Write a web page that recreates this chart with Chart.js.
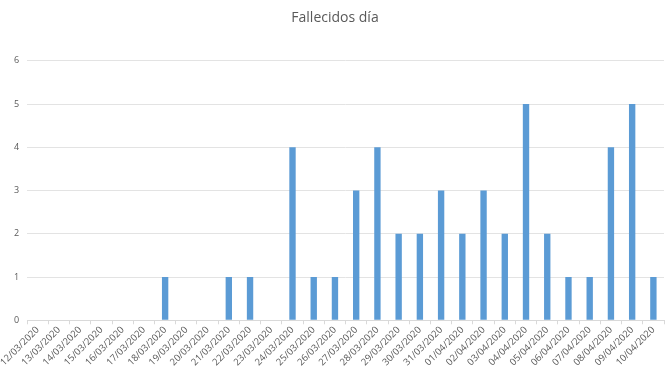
<!DOCTYPE html>
<html>
<head>
<meta charset="utf-8">
<script src="https://cdn.jsdelivr.net/npm/chart.js@4.4.1/dist/chart.umd.min.js"></script>
<style>
  html, body { margin: 0; padding: 0; background: #fff; }
  #wrap { width: 670px; height: 376px; }
</style>
</head>
<body>
<div id="wrap"><canvas id="grafico"></canvas></div>
<script>
// Datos
const fechas = [
  '12/03/2020', '13/03/2020', '14/03/2020', '15/03/2020', '16/03/2020', '17/03/2020',
  '18/03/2020', '19/03/2020', '20/03/2020', '21/03/2020', '22/03/2020', '23/03/2020',
  '24/03/2020', '25/03/2020', '26/03/2020', '27/03/2020', '28/03/2020', '29/03/2020',
  '30/03/2020', '31/03/2020', '01/04/2020', '02/04/2020', '03/04/2020', '04/04/2020',
  '05/04/2020', '06/04/2020', '07/04/2020', '08/04/2020', '09/04/2020', '10/04/2020'
];
const fallecidos = [
  0, 0, 0, 0, 0, 0,
  1, 0, 0, 1, 1, 0,
  4, 1, 1, 3, 4, 2,
  2, 3, 2, 3, 2, 5,
  2, 1, 1, 4, 5, 1
];
const ticksY = [0, 1, 2, 3, 4, 5, 6];

const gris = '#595959';
const ctx = document.getElementById('grafico').getContext('2d');
new Chart(ctx, {
  type: 'bar',
  data: {
    labels: fechas,
    datasets: [{
      label: 'Fallecidos',
      data: fallecidos,
      backgroundColor: '#5b9bd5',
      borderWidth: 0,
      barPercentage: 0.3,
      categoryPercentage: 1
    }]
  },
  options: {
    responsive: true,
    maintainAspectRatio: false,
    animation: false,
    layout: { padding: { left: 6, right: 6, top: 4, bottom: 8 } },
    plugins: {
      legend: { display: false },
      tooltip: { enabled: false },
      title: {
        display: true,
        text: 'Fallecidos día',
        color: gris,
        font: { family: 'Open Sans', size: 14, weight: 'normal' },
        padding: { top: 6, bottom: 34 }
      }
    },
    scales: {
      x: {
        offset: true,
        grid: {
          offset: true,
          drawOnChartArea: false,
          drawTicks: true,
          tickLength: 4,
          color: '#d9d9d9'
        },
        border: { color: '#d9d9d9' },
        ticks: {
          color: gris,
          font: { family: 'Open Sans', size: 9.5 },
          maxRotation: 45,
          minRotation: 45,
          autoSkip: false,
          padding: 0
        }
      },
      y: {
        min: ticksY[0],
        max: ticksY[ticksY.length - 1],
        afterBuildTicks: axis => { axis.ticks = ticksY.map(v => ({ value: v })); },
        grid: { color: '#e3e3e3', drawTicks: false },
        border: { display: false },
        ticks: {
          color: gris,
          font: { family: 'Open Sans', size: 9 },
          padding: 8
        }
      }
    }
  }
});
</script>
</body>
</html>
